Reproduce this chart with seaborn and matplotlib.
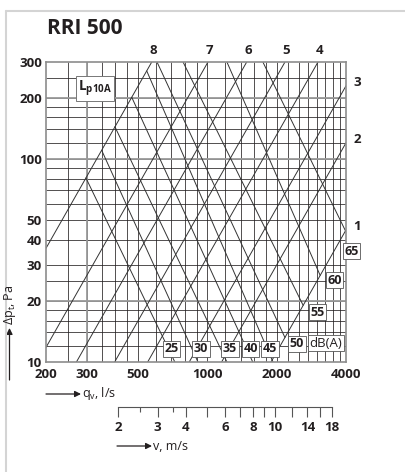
import numpy as np
import pandas as pd
import matplotlib
matplotlib.use('Agg')
import matplotlib.pyplot as plt
import seaborn as sns
from matplotlib.lines import Line2D
from matplotlib.patches import FancyArrowPatch
from matplotlib.ticker import FixedLocator, NullFormatter, NullLocator

# damper positions 1..8, straight lines in the log-log chart (start / end)
pos_names = ['1', '2', '3', '4', '5', '6', '7', '8']
pos_q0 = [1892, 1155, 836, 552, 397, 271, 200, 200]
pos_p0 = [10, 10, 10, 10, 10, 10, 11.8, 36.3]
pos_q1 = [4000, 4000, 4000, 3024, 2175, 1484, 1008, 575]
pos_p1 = [44.7, 120, 229, 300, 300, 300, 300, 300]

# sound level lines Lp10A in dB(A) (start on pos. 8 / top, end on bottom / pos. 1)
db_names = ['25', '30', '35', '40', '45', '50', '55', '60', '65']
db_q0 = [298, 349, 398, 471, 547, 606, 786, 1218, 1744]
db_p0 = [80.6, 110, 144, 201, 271, 300, 300, 300, 300]
db_q1 = [724, 912, 1218, 1576, 1929, 2174, 2608, 3090, 4000]
db_p1 = [10, 10, 10, 10, 10, 13.2, 19.0, 26.7, 43.7]

# grid and ticks
x_grid = [250, 300, 350, 400, 450, 500, 600, 700, 800, 900, 1000, 1200, 1400,
          1600, 1800, 2000, 2250, 2500, 2750, 3000, 3250, 3500, 3750]
y_grid = [12, 14, 16, 18, 20, 25, 30, 40, 50, 60, 70, 80, 90, 100, 120, 140,
          160, 180, 200, 250]
x_grid_bold = [300]
y_grid_bold = [20, 100, 200]
x_ticks = [200, 300, 500, 1000, 2000, 4000]
y_ticks = [10, 20, 30, 40, 50, 100, 200, 300]

# velocity scale
v_ticks = [2, 3, 4, 5, 6, 7, 8, 9, 10, 12, 14, 16, 18]
v_labels = ['2', '3', '4', '', '6', '', '8', '', '10', '', '14', '', '18']
v_minor = [2.5, 3.5]
v_lim = (0.954, 20.8)

# label offsets (pixels) for the dB boxes, relative to the line end
db_offsets = [(-3.5, 13), (3, 13), (3, 13), (-2, 13), (-3, 13),
              (12, -6), (14.5, -7), (14.5, -5), (5.5, -19.5)]

sns.set_style('white')
plt.rcParams['font.family'] = ['Open Sans', 'DejaVu Sans']
plt.rcParams['mathtext.fontset'] = 'custom'
plt.rcParams['mathtext.rm'] = 'Open Sans'
plt.rcParams['mathtext.bf'] = 'Open Sans:bold'

ink = '#231f20'

fig = plt.figure(figsize=(4.06, 4.72), dpi=100)
ax = fig.add_axes([46 / 406, 1 - 362 / 472, 300 / 406, 300 / 472])
ax.set_xscale('log')
ax.set_yscale('log')
ax.set_xlim(200, 4000)
ax.set_ylim(10, 300)

# grid
ax.vlines(x_grid, 10, 300, color=ink, lw=0.55, zorder=1)
ax.hlines(y_grid, 200, 4000, color=ink, lw=0.55, zorder=1)
ax.vlines(x_grid_bold, 10, 300, color='#9a9a9a', lw=1.3, zorder=1)
ax.hlines(y_grid_bold, 200, 4000, color='#9a9a9a', lw=1.3, zorder=1)

# lines as long table
rows = []
for i, n in enumerate(pos_names):
    rows.append(('pos ' + n, pos_q0[i], pos_p0[i]))
    rows.append(('pos ' + n, pos_q1[i], pos_p1[i]))
for i, n in enumerate(db_names):
    rows.append(('db ' + n, db_q0[i], db_p0[i]))
    rows.append(('db ' + n, db_q1[i], db_p1[i]))
df = pd.DataFrame(rows, columns=['line', 'q', 'dp'])

sns.lineplot(data=df, x='q', y='dp', units='line', estimator=None,
             color='#333333', linewidth=0.7, legend=False, ax=ax, zorder=2)

for s in ax.spines.values():
    s.set_color('#8c8c8c')
    s.set_linewidth(1.2)

ax.xaxis.set_major_locator(FixedLocator(x_ticks))
ax.xaxis.set_minor_locator(NullLocator())
ax.yaxis.set_major_locator(FixedLocator(y_ticks))
ax.yaxis.set_minor_locator(NullLocator())
ax.set_xticklabels([str(t) for t in x_ticks])
ax.set_yticklabels([str(t) for t in y_ticks])
ax.tick_params(length=0, labelsize=9.5, colors=ink)
ax.tick_params(axis='x', pad=4)
ax.tick_params(axis='y', pad=3)
for lab in ax.get_xticklabels() + ax.get_yticklabels():
    lab.set_fontweight('bold')
ax.set_xlabel('')
ax.set_ylabel('')

# damper position labels
for i, n in enumerate(pos_names):
    if pos_p1[i] >= 300:
        off = (1.5, 11)
    else:
        off = (11, 3)
    ax.annotate(n, xy=(pos_q1[i], pos_p1[i]), xytext=off, textcoords='offset pixels',
                ha='center', va='center', fontsize=9.5, fontweight='bold', color=ink,
                annotation_clip=False)

# dB labels
box = dict(boxstyle='square,pad=0.12', fc='white', ec='#555555', lw=0.6)
for i, n in enumerate(db_names):
    ax.annotate(n, xy=(db_q1[i], db_p1[i]), xytext=db_offsets[i], textcoords='offset pixels',
                ha='center', va='center', fontsize=9, fontweight='bold', color=ink,
                bbox=box, annotation_clip=False, zorder=5)
ax.annotate('dB(A)', xy=(db_q1[5], db_p1[5]), xytext=(41, -5.5), textcoords='offset pixels',
            ha='center', va='center', fontsize=9.5, color=ink,
            bbox=box, annotation_clip=False, zorder=5)

ax.text(0.162, 0.912, r'L$_\mathregular{p10A}$', transform=ax.transAxes, ha='center',
        va='center', fontsize=10, fontweight='bold', color=ink,
        bbox=dict(boxstyle='square,pad=0.15', fc='white', ec='#777777', lw=0.7), zorder=5)

fig.text(47 / 406, 1 - 28 / 472, 'RRI 500', ha='left', va='center', fontsize=15,
         fontweight='bold', color=ink)

# axis titles with arrows
def fig_arrow(x0, y0, x1, y1):
    fig.add_artist(FancyArrowPatch((x0 / 406, 1 - y0 / 472), (x1 / 406, 1 - y1 / 472),
                                   transform=fig.transFigure, arrowstyle='-|>',
                                   mutation_scale=9, color=ink, lw=0.9,
                                   shrinkA=0, shrinkB=0))

fig_arrow(9.5, 380, 9.5, 328)
fig.text(10 / 406, 1 - 305 / 472, r'Δp$_\mathregular{t}$, Pa', rotation=90, ha='center',
         va='center', fontsize=9, color=ink)
fig_arrow(46, 394, 81, 394)
fig.text(82 / 406, 1 - 394 / 472, r'q$_\mathregular{v}$, l/s', ha='left', va='center',
         fontsize=9, color=ink)
fig_arrow(117, 446, 152, 446)
fig.text(153 / 406, 1 - 446 / 472, 'v, m/s', ha='left', va='center', fontsize=9, color=ink)

# velocity scale
vax = fig.add_axes([46 / 406, 1 - 407 / 472, 300 / 406, 0.001])
vax.patch.set_visible(False)
vax.set_xscale('log')
vax.set_xlim(*v_lim)
for s in ['top', 'left', 'right']:
    vax.spines[s].set_visible(False)
vax.spines['bottom'].set_bounds(2, 18)
vax.spines['bottom'].set_color('#555555')
vax.spines['bottom'].set_linewidth(0.8)
vax.set_yticks([])
vax.xaxis.set_major_locator(FixedLocator(v_ticks))
vax.xaxis.set_minor_locator(FixedLocator(v_minor))
vax.set_xticklabels(v_labels)
vax.xaxis.set_minor_formatter(NullFormatter())
vax.tick_params(which='both', bottom=True, direction='out')
vax.tick_params(which='major', length=7, width=0.8, color='#555555', labelsize=9.5,
                labelcolor=ink, pad=3)
vax.tick_params(which='minor', length=3.5, width=0.8, color='#555555')
for lab in vax.get_xticklabels():
    lab.set_fontweight('bold')

# page frame of the source sheet
fig.add_artist(Line2D([6 / 406, 1], [1 - 11 / 472, 1 - 11 / 472], transform=fig.transFigure,
                      color='#d4d4d4', lw=1.5))
fig.add_artist(Line2D([6 / 406, 6 / 406], [0, 1 - 11 / 472], transform=fig.transFigure,
                      color='#d4d4d4', lw=1.5))

fig.savefig('out.png', dpi=100)
